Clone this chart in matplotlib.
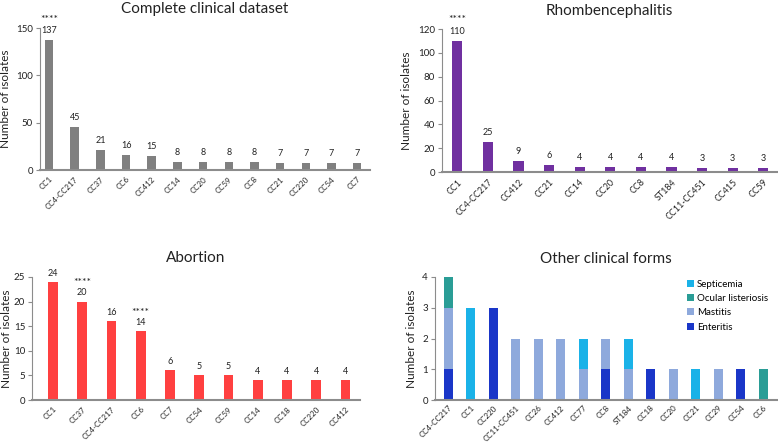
import matplotlib
matplotlib.use("Agg")
import matplotlib.pyplot as plt
import numpy as np

plt.rcParams["font.family"] = ["Lato", "DejaVu Sans"]

# Complete clinical dataset
all_cc = ["CC1", "CC4-CC217", "CC37", "CC6", "CC412", "CC14", "CC20",
          "CC59", "CC8", "CC21", "CC220", "CC54", "CC7"]
all_n = [137, 45, 21, 16, 15, 8, 8, 8, 8, 7, 7, 7, 7]
all_stars = ["CC1"]

# Rhombencephalitis
rh_cc = ["CC1", "CC4-CC217", "CC412", "CC21", "CC14", "CC20", "CC8",
         "ST184", "CC11-CC451", "CC415", "CC59"]
rh_n = [110, 25, 9, 6, 4, 4, 4, 4, 3, 3, 3]
rh_stars = ["CC1"]

# Abortion
ab_cc = ["CC1", "CC37", "CC4-CC217", "CC6", "CC7", "CC54", "CC59",
         "CC14", "CC18", "CC220", "CC412"]
ab_n = [24, 20, 16, 14, 6, 5, 5, 4, 4, 4, 4]
ab_stars = ["CC37", "CC6"]

# Other clinical forms (stacked)
oc_cc = ["CC4-CC217", "CC1", "CC220", "CC11-CC451", "CC26", "CC412", "CC77",
         "CC8", "ST184", "CC18", "CC20", "CC21", "CC29", "CC54", "CC6"]
enteritis = [1, 0, 3, 0, 0, 0, 0, 1, 0, 1, 0, 0, 0, 1, 0]
mastitis = [2, 0, 0, 2, 2, 2, 1, 1, 1, 0, 1, 0, 1, 0, 0]
ocular = [1, 0, 0, 0, 0, 0, 0, 0, 0, 0, 0, 0, 0, 0, 1]
septicemia = [0, 3, 0, 0, 0, 0, 1, 0, 1, 0, 0, 1, 0, 0, 0]

SPINE = "#8c8c8c"
TEXT = "#222222"


def style_axes(ax, labels, ymax, step, xsize, ypad=4, xpad=4):
    ax.set_ylim(0, ymax)
    ax.set_yticks(np.arange(0, ymax + step / 2, step))
    for side in ["top", "right"]:
        ax.spines[side].set_visible(False)
    ax.spines["left"].set_color(SPINE)
    ax.spines["bottom"].set_color(SPINE)
    ax.spines["bottom"].set_linewidth(1.5)
    ax.tick_params(axis="y", labelsize=7, length=3, color=SPINE,
                   labelcolor=TEXT, pad=2)
    ax.tick_params(axis="x", length=0, labelsize=xsize, labelcolor=TEXT,
                   pad=xpad)
    ax.set_xticks(range(len(labels)))
    ax.set_xticklabels(labels, rotation=45, ha="right",
                       rotation_mode="anchor")
    ax.set_ylabel("Number of isolates", fontsize=8.5, color=TEXT,
                  labelpad=ypad)


def bar_panel(rect, labels, values, stars, color, ymax, step, title,
              xlim, xsize, tpad, ypad=4, width=0.33):
    ax = fig.add_axes(rect)
    x = np.arange(len(labels))
    ax.bar(x, values, width=width, color=color)
    style_axes(ax, labels, ymax, step, xsize, ypad)
    ax.set_xlim(*xlim)
    for xi, lab, v in zip(x, labels, values):
        ax.text(xi, v + ymax * 0.035, str(v), ha="center", va="bottom",
                fontsize=6.5, color=TEXT)
        if lab in stars:
            ax.text(xi, v + ymax * 0.115, "****", ha="center", va="bottom",
                    fontsize=7.5, color=TEXT, clip_on=False)
    ax.set_title(title, fontsize=11, color=TEXT, pad=tpad)
    return ax


fig = plt.figure(figsize=(7.78, 4.45), dpi=100)

bar_panel([40 / 778, 275 / 445, 330 / 778, 142 / 445], all_cc, all_n,
          all_stars, "#808080", 150, 50, "Complete clinical dataset",
          (-0.35, 12.5), 5.7, 11)
bar_panel([442 / 778, 273 / 445, 335 / 778, 143 / 445], rh_cc, rh_n,
          rh_stars, "#7030a0", 120, 20, "Rhombencephalitis",
          (-0.5, 10.45), 6.4, 10)
bar_panel([32 / 778, 45 / 445, 328 / 778, 123 / 445], ab_cc, ab_n,
          ab_stars, "#ff4040", 25, 5, "Abortion", (-0.72, 10.5), 5.7, 11,
          ypad=1.5)

# Other clinical forms
ax = fig.add_axes([435 / 778, 45 / 445, 342 / 778, 123 / 445])
x = np.arange(len(oc_cc))
series = [("Enteritis", enteritis, "#1a36c8"),
          ("Mastitis", mastitis, "#8ea9dc"),
          ("Ocular listeriosis", ocular, "#2a9d96"),
          ("Septicemia", septicemia, "#1ab2e8")]
bottom = np.zeros(len(oc_cc))
handles = []
for name, vals, col in series:
    h = ax.bar(x, vals, width=0.4, bottom=bottom, color=col, label=name)
    handles.append(h)
    bottom += np.array(vals)
style_axes(ax, oc_cc, 4, 1, 5.8, xpad=3)
ax.set_xlim(-0.58, 14.6)
ax.set_title("Other clinical forms", fontsize=11, color=TEXT, pad=10)
ax.legend(handles[::-1], [s[0] for s in series][::-1], loc="upper right",
          bbox_to_anchor=(1.0, 1.05), frameon=False, fontsize=7,
          handlelength=0.7, handleheight=0.7, handletextpad=0.3,
          labelspacing=0.55)

fig.savefig("out.png", dpi=100)
